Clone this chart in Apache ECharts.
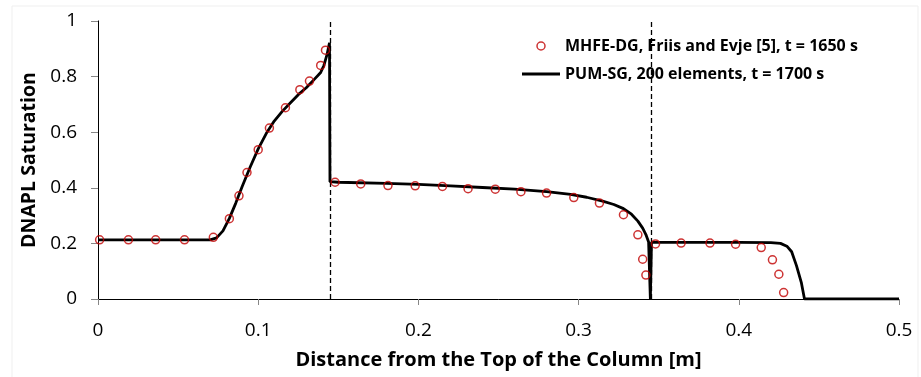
<!DOCTYPE html>
<html>
<head>
<meta charset="utf-8">
<script src="https://cdn.jsdelivr.net/npm/echarts@6/dist/echarts.min.js"></script>
<style>html,body{margin:0;padding:0;background:#fff}#c{width:921px;height:377px}</style>
</head>
<body>
<div id="c"></div>
<script>
// MHFE-DG reference points (Friis and Evje), t = 1650 s
const mhfeX = [0.001, 0.019, 0.036, 0.054, 0.072, 0.082, 0.088, 0.093, 0.100, 0.107, 0.117, 0.126, 0.132, 0.139, 0.142, 0.148,
  0.164, 0.181, 0.198, 0.215, 0.231, 0.248, 0.264, 0.280, 0.297, 0.313, 0.328, 0.337, 0.340, 0.342, 0.348,
  0.364, 0.382, 0.398, 0.414, 0.421, 0.425, 0.428];
const mhfeY = [0.213, 0.213, 0.213, 0.213, 0.222, 0.289, 0.371, 0.455, 0.537, 0.615, 0.688, 0.753, 0.784, 0.840, 0.895, 0.420,
  0.414, 0.408, 0.407, 0.405, 0.397, 0.395, 0.386, 0.381, 0.365, 0.345, 0.303, 0.231, 0.143, 0.086, 0.198,
  0.201, 0.201, 0.197, 0.185, 0.141, 0.089, 0.023];
// PUM-SG, 200 elements, t = 1700 s
const pumX = [0, 0.070, 0.074, 0.078, 0.082, 0.086, 0.090, 0.095, 0.100, 0.105, 0.110, 0.115, 0.120, 0.125, 0.130, 0.135, 0.139, 0.141, 0.143, 0.1445,
  0.1448, 0.150, 0.180, 0.200, 0.220, 0.240, 0.260, 0.280, 0.295, 0.305, 0.315, 0.322, 0.328, 0.333, 0.337, 0.340, 0.342, 0.3437,
  0.3448, 0.3455, 0.350, 0.400, 0.420, 0.426, 0.430, 0.433, 0.436, 0.439, 0.441, 0.500];
const pumY = [0.213, 0.213, 0.220, 0.245, 0.290, 0.345, 0.405, 0.475, 0.540, 0.595, 0.640, 0.675, 0.705, 0.735, 0.760, 0.790, 0.815, 0.840, 0.880, 0.922,
  0.422, 0.420, 0.416, 0.412, 0.407, 0.401, 0.395, 0.386, 0.376, 0.366, 0.352, 0.340, 0.325, 0.305, 0.280, 0.255, 0.232, 0.205,
  0, 0.204, 0.204, 0.204, 0.203, 0.200, 0.190, 0.170, 0.120, 0.060, 0, 0];
// front positions (dashed verticals)
const frontX = [0.1448, 0.3452];
const seriesNames = ['MHFE-DG, Friis and Evje [5], t = 1650 s', 'PUM-SG, 200 elements, t = 1700 s'];

const font = 'Open Sans';
const chart = echarts.init(document.getElementById('c'), null, {renderer: 'canvas'});
chart.setOption({
  backgroundColor: '#fff',
  animation: false,
  graphic: [{type: 'rect', shape: {x: 12, y: 6, width: 906, height: 400}, style: {fill: 'none', stroke: '#efefef', lineWidth: 1}, silent: true, z: -10}],
  grid: {left: 98, right: 22, top: 21, bottom: 78},
  legend: {
    orient: 'vertical', left: 517, top: 32, itemWidth: 38, itemHeight: 8, itemGap: 10,
    symbolKeepAspect: true,
    textStyle: {fontFamily: font, fontWeight: 'bold', fontSize: 16, color: '#000', lineHeight: 18},
    data: [
      {name: seriesNames[0], icon: 'circle', itemStyle: {color: 'rgba(0,0,0,0)', borderColor: '#C00000', borderWidth: 1.5}},
      {name: seriesNames[1], icon: 'path://M0,0H38V3H0Z', itemStyle: {color: '#000', borderWidth: 0}}
    ]
  },
  xAxis: [{
    type: 'value', min: 0, max: 0.5, interval: 0.1,
    name: 'Distance from the Top of the Column [m]', nameLocation: 'middle', nameGap: 51,
    nameTextStyle: {fontFamily: font, fontWeight: 'bold', fontSize: 20, color: '#000'},
    axisLine: {lineStyle: {color: '#868686', width: 1}},
    axisTick: {show: true, inside: false, length: 6, lineStyle: {color: '#868686'}},
    axisLabel: {fontFamily: font, fontSize: 19, color: '#000', margin: 22},
    splitLine: {show: false}
  }, {
    type: 'value', position: 'top', min: 0, max: 0.5,
    axisLine: {show: true, lineStyle: {color: '#000', width: 1}}, axisTick: {show: false}, axisLabel: {show: false}, splitLine: {show: false}
  }],
  yAxis: [{
    type: 'value', min: 0, max: 1, interval: 0.2,
    name: 'DNAPL Saturation', nameLocation: 'middle', nameGap: 58, nameRotate: 90,
    nameTextStyle: {fontFamily: font, fontWeight: 'bold', fontSize: 19.5, color: '#000'},
    axisLine: {show: true, lineStyle: {color: '#868686', width: 1}},
    axisTick: {show: true, inside: false, length: 7, lineStyle: {color: '#868686'}},
    axisLabel: {fontFamily: font, fontSize: 19, color: '#000', margin: 21},
    splitLine: {show: false}
  }, {
    type: 'value', position: 'right', min: 0, max: 1,
    axisLine: {show: true, lineStyle: {color: '#000', width: 1}}, axisTick: {show: false}, axisLabel: {show: false}, splitLine: {show: false}
  }],
  series: [{
    name: seriesNames[1], type: 'line', xAxisIndex: 0, yAxisIndex: 0,
    data: pumX.map((x, i) => [x, pumY[i]]),
    showSymbol: false, symbol: 'none', smooth: false,
    lineStyle: {color: '#000', width: 2.8}, itemStyle: {color: '#000'}, z: 3,
    markLine: {
      silent: true, symbol: ['none', 'none'], label: {show: false}, precision: 5,
      lineStyle: {color: '#000', type: [5, 3], width: 1.3},
      data: frontX.map(x => ({xAxis: x}))
    }
  }, {
    name: seriesNames[0], type: 'scatter', xAxisIndex: 0, yAxisIndex: 0,
    data: mhfeX.map((x, i) => [x, mhfeY[i]]),
    symbol: 'circle', symbolSize: 8,
    itemStyle: {color: 'rgba(0,0,0,0)', borderColor: '#C00000', borderWidth: 1.5}, z: 5
  }]
});
</script>
</body>
</html>
